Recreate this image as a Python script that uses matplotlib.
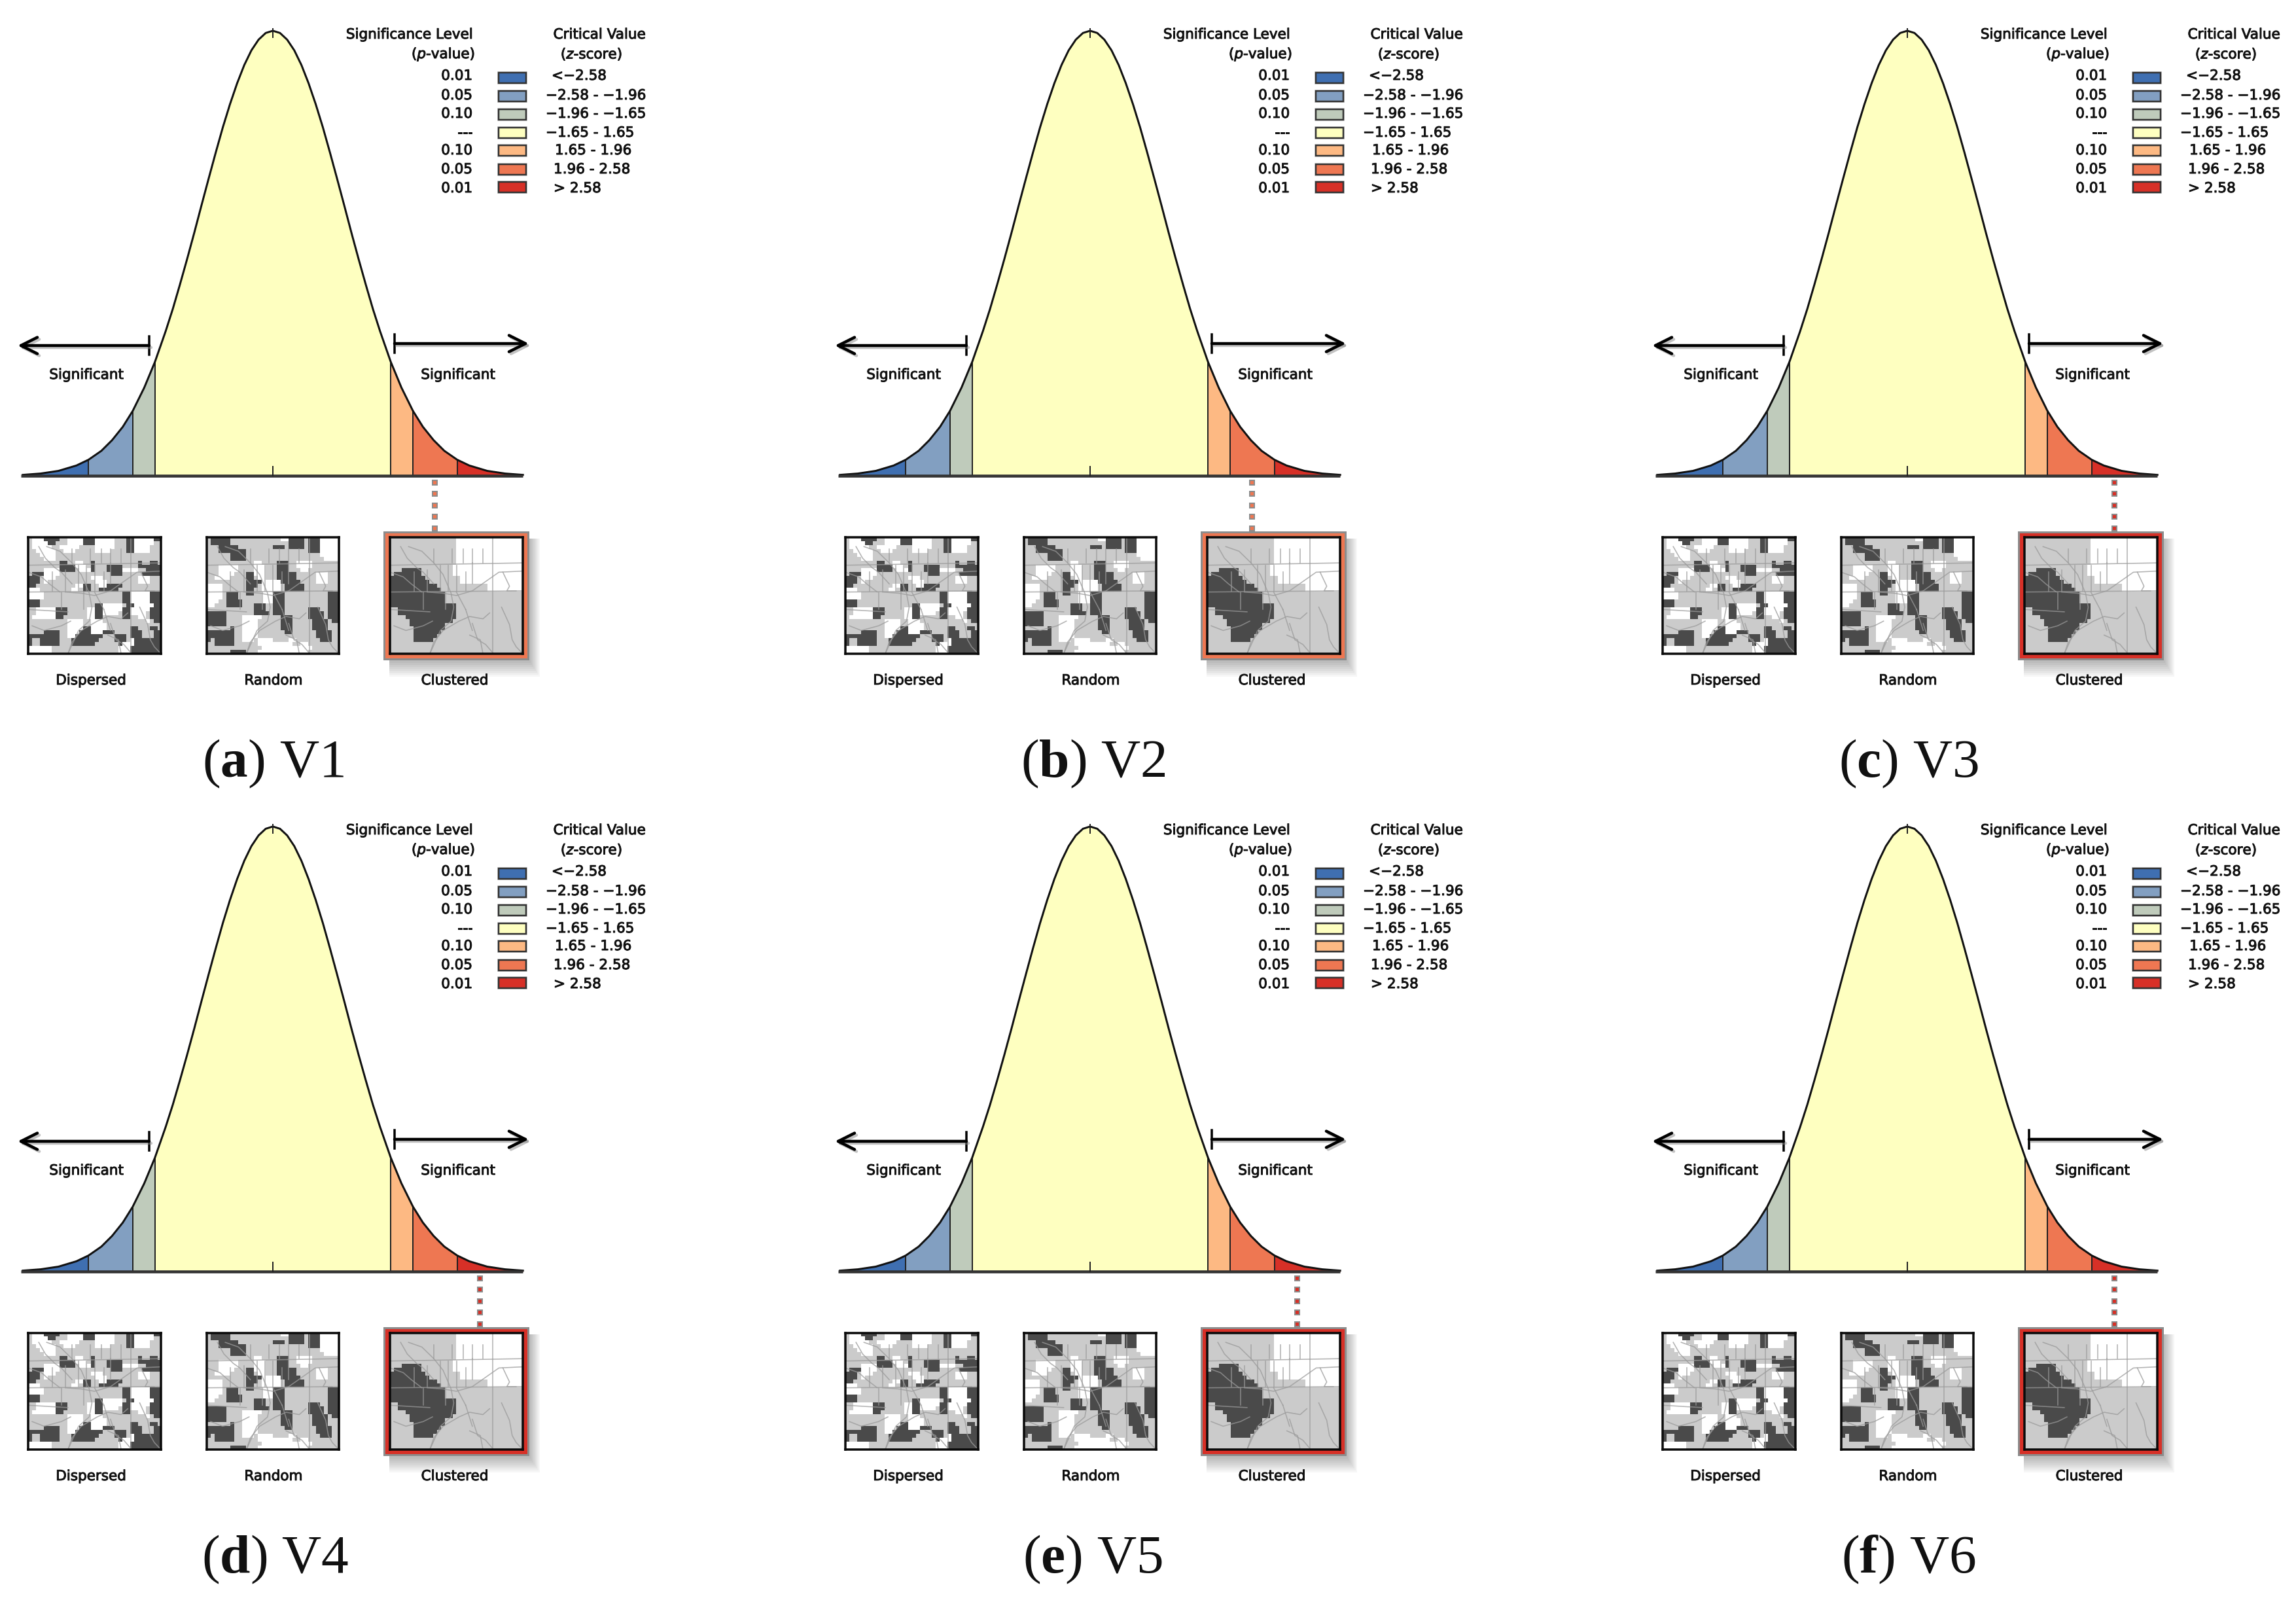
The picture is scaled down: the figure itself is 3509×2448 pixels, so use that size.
import numpy as np
import matplotlib
matplotlib.use('Agg')
import matplotlib.pyplot as plt
import matplotlib.patheffects as pe
from matplotlib.colors import ListedColormap
from matplotlib.patches import Rectangle

plt.rcParams['mathtext.fontset'] = 'custom'
plt.rcParams['mathtext.rm'] = 'DejaVu Sans'
plt.rcParams['mathtext.it'] = 'DejaVu Sans:italic'
plt.rcParams['mathtext.bf'] = 'Liberation Serif:bold'

# curve, right half (left side is the mirror)
curve_z = [0, 0.1, 0.2, 0.3, 0.4, 0.5, 0.6, 0.7, 0.8, 0.9, 1.0, 1.1, 1.2, 1.3, 1.4, 1.5,
           1.65, 1.8, 1.96, 2.1, 2.25, 2.4, 2.58, 2.75, 3.0, 3.25, 3.5]
curve_h = [1.0, 0.995, 0.98, 0.956, 0.923, 0.882, 0.835, 0.783, 0.726, 0.667, 0.607, 0.546,
           0.487, 0.43, 0.375, 0.325, 0.256, 0.198, 0.146, 0.11, 0.08, 0.056, 0.036, 0.023,
           0.011, 0.005, 0.002]

bin_edges = [-3.5, -2.58, -1.96, -1.65, 1.65, 1.96, 2.58, 3.5]
bin_colors = ['#3f6fb1', '#829fc1', '#bfcbbb', '#feffc0', '#fdb983', '#ee7752', '#d73027']

p_labels = ['0.01', '0.05', '0.10', '---', '0.10', '0.05', '0.01']
z_labels = ['<\u22122.58', '\u22122.58 - \u22121.96', '\u22121.96 - \u22121.65', '\u22121.65 - 1.65',
            '1.65 - 1.96', '1.96 - 2.58', '> 2.58']
map_labels = ['Dispersed', 'Random', 'Clustered']

panel_letters = ['a', 'b', 'c', 'd', 'e', 'f']
panel_names = ['V1', 'V2', 'V3', 'V4', 'V5', 'V6']
# z position of the dotted link under each curve
panel_link = [2.27, 2.27, 2.9, 2.9, 2.9, 2.9]
panel_frame = ['#ee7752', '#ee7752', '#d73027', '#d73027', '#d73027', '#d73027']
caption_x = [418, 1671, 2917, 421, 1670, 2917]

dispersed = [
    ".ooo####..oooo###ooooo...##ooooo##",
    ".oooo##...oooo###ooooo...##ooooo..",
    ".ooooo..ooooo....ooooo...##oooo...",
    "..ooooo..ooo.....oooo....##oooo...",
    "...oooo",
    "....ooo",
    "........##..oo..#...........#..##.",
    "........####ooo.#...####....######",
    "....oooo####.ooo#...####oooo..####",
    ".###oooo.............###.....#####",
    "###.ooo.........ooo.........ooo...",
    "###.o............ooo........ooo...",
    "##..........oo##..oo####..........",
    "ooo........oo.##..#####...........",
    "oooo....................##ooooo###",
    "oooo....................##ooooo###",
    "###.....................##ooooo###",
    "###..............##ooooo.##ooooo###",
    "..ooooo###.....oo##ooooo##ooooo###",
    "..ooooo###.....oo##oooo.##oooo.###",
    ".oooooo##......oo##.....##..oo.###",
    "..........oooo..ooo...........o.##",
    "..........oooo..oooo..............",
    "..........oooo##oooo......##...##.",
    "....####..ooo###ooo###....###...##",
    "########..oo#######...###.###...##",
    "#..#####...#######....###.o#######",
    "#..#####...######......#ooo#######",
    "oooooo.................ooo########",
    "oooooo.................ooo########",
]
random_map = [
    ".#####.............oo####.###ooooo",
    ".#####...............####.###ooooo",
    "...#####.........###.####.###ooooo",
    "...#######................###ooooo",
    "......####...................ooooo",
    "......####....................oooo",
    "............oo....###..oooo.......",
    "...ooooo....ooo...###..oooo.......",
    "...ooooo....ooo...###...oo........",
    "...oooo...##ooo...#####.....ooo...",
    "..oooo....##.oo...#####.....ooo...",
    "..........####ooooo#####....ooo...",
    "oooo......###.ooooo.#####.........",
    "oooo......##..ooooo.#####.........",
    "oooo.###..##..ooo###...........###",
    "oooo.###......ooo###...........###",
    "ooo..####.....ooo###...........###",
    "oo...####...###..###...........###",
    "............###..###......###..###",
    "#####.......####.###......####.###",
    "#####....ooooo.....###....####.###",
    "#####....oooo......###.....####.##",
    "#####....oooo......###.....####...",
    "......#..oooo......###.....####...",
    "#######..oooo.......##......####..",
    "#######..oooo...............####..",
    "#.#####..ooo.oooo....oo......###..",
    "..#####......ooooooooo..oo........",
    "..............ooooooooooooo.......",
    "......####...ooooooooooooo........",
]
clustered = [
    ".................ooooooooooooooooo",
    ".................ooooooooooooooooo",
    ".................ooooooooooooooooo",
    ".................ooooooooooooooooo",
    ".................ooooooooooooooooo",
    ".................ooooooooooooooooo",
    ".................ooooooooooooooooo",
    "................oooooooooooooooooo",
    "...#####........oooooooooooooooooo",
    ".#######........oooooooooooooooooo",
    "#########.........oooooooooooooooo",
    "##########........oooooooooooooooo",
    "############.............ooooooooo",
    "#############............ooooooooo",
    "##############",
    "##############",
    "##############",
    "#################",
    "..###############",
    "..###############",
    "....#############",
    ".....###########",
    ".....#########",
    "......########",
    "......#######",
    "......######",
    "......#####",
    "",
    "",
    "",
]

# tract boundaries, same for all three maps (percent of map box, y from top)
tract_x = [
    [0, 100], [0, 100], [77.5, 77.5],
    [14, 24, 33, 40, 46, 48, 46, 38, 30], [100, 82, 72, 62, 50, 40, 28],
    [75, 70, 60, 52, 40, 33, 30], [84, 90, 92, 95, 100], [8, 13, 20, 25, 33],
    [0, 10, 16, 24], [33, 33], [47, 47], [55, 55], [62, 62], [70, 70],
    [18, 18], [28, 28], [38, 38], [44, 44], [50, 50], [57, 57], [62, 62],
    [25, 25], [42, 42], [50, 57], [57, 62], [0, 30], [3, 12, 25, 32], [62, 66, 72, 78],
    [85, 90, 88, 95], [60, 68, 70],
]
tract_y = [
    [24, 22], [47, 46], [0, 100],
    [8, 12, 22, 32, 48, 60, 72, 80, 100], [29, 30, 38, 46, 50, 48, 47],
    [65, 70, 68, 72, 80, 90, 100], [60, 75, 88, 94, 100], [8, 18, 26, 30, 40],
    [30, 34, 40, 47], [10, 22], [10, 22], [10, 22], [10, 22], [10, 22],
    [30, 46], [28, 46], [24, 46], [24, 46], [24, 46], [30, 46], [22, 40],
    [47, 62], [47, 62], [47, 62], [62, 80], [62, 64], [76, 80, 76, 72], [74, 88, 92, 100],
    [30, 42, 46, 46], [84, 88, 100],
]

W, H = 3509, 2448
COL_DX = [0, 1249, 2498]
ROW_DY = [0, 1216]
CX, UNIT, BASE_Y, TOP_Y = 417, 109.2, 727, 47

fig = plt.figure(figsize=(W / 100, H / 100), dpi=100, facecolor='white')
bg = fig.add_axes([0, 0, 1, 1])
bg.set_xlim(0, W)
bg.set_ylim(H, 0)
bg.axis('off')


def px_axes(x0, y0, x1, y1, z=3):
    a = fig.add_axes([x0 / W, 1 - y1 / H, (x1 - x0) / W, (y1 - y0) / H], zorder=z)
    a.patch.set_alpha(0)
    return a


def px(n):
    return n * 0.72


cmap = ListedColormap(['#4a4a4a', '#cbcbcb', '#ffffff'])
codes = {'#': 0, '.': 1, 'o': 2}


def draw_map(x0, y0, x1, y1, rows):
    a = px_axes(x0, y0, x1, y1, z=4)
    arr = np.array([[codes[c] for c in r.ljust(34, '.')[:34]] for r in rows])
    a.imshow(arr, cmap=cmap, vmin=0, vmax=2, aspect='auto', extent=(0, 100, 100, 0),
             interpolation='nearest')
    for tx, ty in zip(tract_x, tract_y):
        a.plot(tx, ty, color='#9a9a9a', lw=px(1.6), alpha=0.75)
    a.set_xlim(0, 100)
    a.set_ylim(100, 0)
    a.set_xticks([])
    a.set_yticks([])
    for s in a.spines.values():
        s.set_linewidth(px(3.5))
        s.set_color('#0a0a0a')


half_z = np.array(curve_z)
half_h = np.array(curve_h)
all_z = np.concatenate([-half_z[:0:-1], half_z])
all_h = np.concatenate([half_h[:0:-1], half_h])

TXT = dict(color='#111111', family='DejaVu Sans', va='center', fontsize=15.5,
           path_effects=[pe.withStroke(linewidth=0.7, foreground='#111111')])

for i in range(6):
    dx = COL_DX[i % 3]
    dy = ROW_DY[i // 3]
    cur = px_axes(20 + dx, TOP_Y - 10 + dy, 815 + dx, BASE_Y + 10 + dy)
    cur.set_xlim((20 - CX) / UNIT, (815 - CX) / UNIT)
    cur.set_ylim(-10 / (BASE_Y - TOP_Y), 1 + 10 / (BASE_Y - TOP_Y))
    cur.axis('off')
    for lo, hi, col in zip(bin_edges[:-1], bin_edges[1:], bin_colors):
        m = (all_z >= lo) & (all_z <= hi)
        cur.fill_between(all_z[m], 0, all_h[m], color=col, lw=0)
    for e in bin_edges[1:-1]:
        cur.plot([e, e], [0, all_h[np.argmin(np.abs(all_z - e))]], color='#222222', lw=px(2))
    cur.plot(all_z, all_h, color='#111111', lw=px(3))
    cur.plot([-3.53, 3.5], [0, 0], color='#333333', lw=px(4.5), solid_capstyle='butt')
    cur.plot([0, 0], [0, 0.02], color='#222222', lw=px(2))
    cur.plot([0, 0], [0.985, 1.005], color='#222222', lw=px(2))

    # arrows either side of the curve
    for x0, x1, y in [(228, 27, 528), (603, 808, 525)]:
        for off, col, al in [(3, '#888888', 0.5), (0, 'black', 1)]:
            bg.annotate('', xy=(x1 + dx + off, y + dy + off), xytext=(x0 + dx + off, y + dy + off),
                        arrowprops=dict(arrowstyle='->', color=col, alpha=al, lw=px(4.5),
                                        mutation_scale=45, shrinkA=0, shrinkB=0))
        bg.plot([x0 + dx, x0 + dx], [y - 14 + dy, y + 14 + dy], color='black', lw=px(3.5))

    bg.text(421 + dx, 531 + dy, '(Random)', ha='center', **TXT)
    bg.text(132 + dx, 573 + dy, 'Significant', ha='center', **TXT)
    bg.text(700 + dx, 573 + dy, 'Significant', ha='center', **TXT)

    # legend block
    bg.text(722 + dx, 53 + dy, 'Significance Level', ha='right', **TXT)
    bg.text(726 + dx, 83 + dy, r'($\mathit{p}$-value)', ha='right', **TXT)
    bg.text(916 + dx, 53 + dy, 'Critical Value', ha='center', **TXT)
    bg.text(904 + dx, 83 + dy, r'($\mathit{z}$-score)', ha='center', **TXT)
    ys = [116, 146, 174, 203, 230, 259, 288]
    sw = [119, 147, 175, 203, 230, 259, 286]
    zx = [843, 834, 834, 834, 848, 846, 846]
    for j in range(7):
        bg.text(722 + dx, ys[j] + dy, p_labels[j], ha='right', **TXT)
        bg.text(zx[j] + dx, ys[j] + dy, z_labels[j], ha='left', **TXT)
        bg.add_patch(Rectangle((760 + dx, sw[j] - 10 + dy), 46, 20, fc='#cccccc', ec='none', alpha=0.7))
        bg.add_patch(Rectangle((762 + dx, sw[j] - 8 + dy), 42, 16, fc=bin_colors[j], ec='#333333', lw=px(2.5)))

    # maps
    draw_map(43 + dx, 821 + dy, 246 + dx, 999 + dy, dispersed)
    draw_map(316 + dx, 821 + dy, 518 + dx, 999 + dy, random_map)
    fx0, fy0, fx1, fy1 = 587 + dx, 813 + dy, 807 + dx, 1007 + dy
    for s in range(8):
        g = s * 2
        bg.add_patch(Rectangle((fx0 + 8, fy0 + 10), fx1 - fx0 - 4 + g, fy1 - fy0 - 4 + g * 1.5,
                               fc='black', ec='none', alpha=0.035))
    bg.add_patch(Rectangle((fx0, fy0), fx1 - fx0, fy1 - fy0, fc=panel_frame[i], ec='#8c8c8c', lw=px(3)))
    draw_map(596 + dx, 821 + dy, 799 + dx, 999 + dy, clustered)

    # dotted link
    lx = CX + panel_link[i] * UNIT + dx
    for k in range(5):
        yy = 737 + 17.5 * k + dy
        bg.add_patch(Rectangle((lx - 3.5, yy - 3.5), 7, 7, fc=panel_frame[i], ec='#8c8c8c', lw=px(2)))

    for x, name in zip([139, 418, 695], map_labels):
        bg.text(x + dx, 1040 + dy, name, ha='center', **TXT)

    bg.text(caption_x[i], 1167 + dy, r'($\mathbf{%s}$) %s' % (panel_letters[i], panel_names[i]),
            ha='center', va='center', family='Liberation Serif', color='#111111', fontsize=60)

fig.savefig('out.png', dpi=100)
